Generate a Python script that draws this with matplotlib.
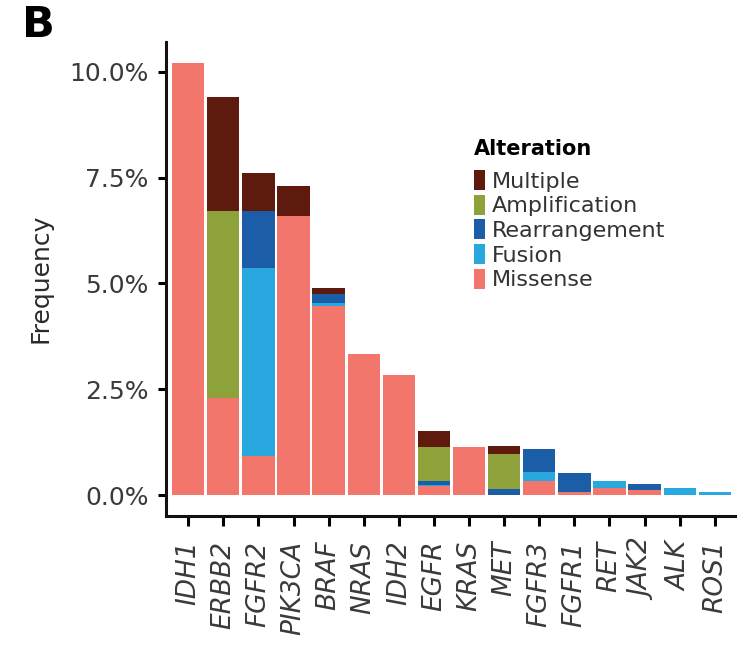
import matplotlib
matplotlib.use("Agg")
import matplotlib.pyplot as plt
from matplotlib.patches import Patch
from matplotlib.ticker import FuncFormatter
import numpy as np

genes = ["IDH1", "ERBB2", "FGFR2", "PIK3CA", "BRAF", "NRAS", "IDH2", "EGFR",
         "KRAS", "MET", "FGFR3", "FGFR1", "RET", "JAK2", "ALK", "ROS1"]

# segment heights in percent (stacked bottom -> top)
missense      = [10.20, 2.29, 0.92, 6.59, 4.47, 3.33, 2.83, 0.21, 1.14, 0.00, 0.35, 0.08, 0.17, 0.13, 0.00, 0.00]
fusion        = [0.00, 0.00, 4.44, 0.00, 0.07, 0.00, 0.00, 0.04, 0.00, 0.00, 0.20, 0.00, 0.18, 0.00, 0.17, 0.08]
rearrangement = [0.00, 0.00, 1.36, 0.00, 0.22, 0.00, 0.00, 0.10, 0.00, 0.16, 0.55, 0.45, 0.00, 0.13, 0.00, 0.00]
amplification = [0.00, 4.43, 0.00, 0.00, 0.00, 0.00, 0.00, 0.78, 0.00, 0.81, 0.00, 0.00, 0.00, 0.00, 0.00, 0.00]
multiple      = [0.00, 2.67, 0.89, 0.71, 0.14, 0.00, 0.00, 0.38, 0.00, 0.19, 0.00, 0.00, 0.00, 0.00, 0.00, 0.00]

yticks = [0.0, 2.5, 5.0, 7.5, 10.0]

series = [
    ("Missense", missense, "#F2766B"),
    ("Fusion", fusion, "#29A8DF"),
    ("Rearrangement", rearrangement, "#1B5DA6"),
    ("Amplification", amplification, "#8EA23C"),
    ("Multiple", multiple, "#5E1A0C"),
]

plt.rcParams['font.family'] = ['DejaVu Sans']

fig = plt.figure(figsize=(7.43, 6.45), dpi=100)
ax = fig.add_axes([0.224, 0.2005, 0.765, 0.7345])

x = np.arange(len(genes))
bottom = np.zeros(len(genes))
for name, vals, col in series:
    v = np.array(vals)
    ax.bar(x, v, bottom=bottom, width=0.92, color=col, linewidth=0)
    bottom += v

ax.set_xlim(-0.62, len(genes) - 1 + 0.57)
ax.set_ylim(-0.48, 10.7)
ax.set_yticks(yticks)
ax.yaxis.set_major_formatter(FuncFormatter(lambda v, p: f"{v:.1f}%"))
ax.set_xticks(x)
ax.set_xticklabels(genes, rotation=90, fontstyle='italic', fontsize=19, color='#3a3a3a')
ax.tick_params(axis='y', labelsize=18, labelcolor='#3a3a3a', length=6, width=2.2, pad=7)
ax.tick_params(axis='x', length=7, width=2.2, pad=11)
for s in ['top', 'right']:
    ax.spines[s].set_visible(False)
for s in ['left', 'bottom']:
    ax.spines[s].set_linewidth(2.2)
    ax.spines[s].set_color('#111111')
ax.set_ylabel("Frequency", fontsize=18, color='#2a2a2a', labelpad=12)

order = ["Multiple", "Amplification", "Rearrangement", "Fusion", "Missense"]
cmap = {n: c for n, _, c in series}
handles = [Patch(facecolor=cmap[n], edgecolor='none') for n in order]
leg = fig.legend(handles, order, loc='upper left', bbox_to_anchor=(474 / 743, 1 - 139 / 645),
                 frameon=False, fontsize=16, title="Alteration",
                 title_fontproperties={'weight': 'bold', 'size': 15},
                 handlelength=0.5, handleheight=1.0, handletextpad=0.3,
                 labelspacing=0.14, borderpad=0, borderaxespad=0, alignment='left')
leg._legend_box.sep = 8
for t in leg.get_texts():
    t.set_color('#333333')

fig.text(22 / 743, 1 - 4 / 645, "B", fontsize=31, fontweight='bold', va='top', ha='left')

fig.savefig("out.png", dpi=100)
